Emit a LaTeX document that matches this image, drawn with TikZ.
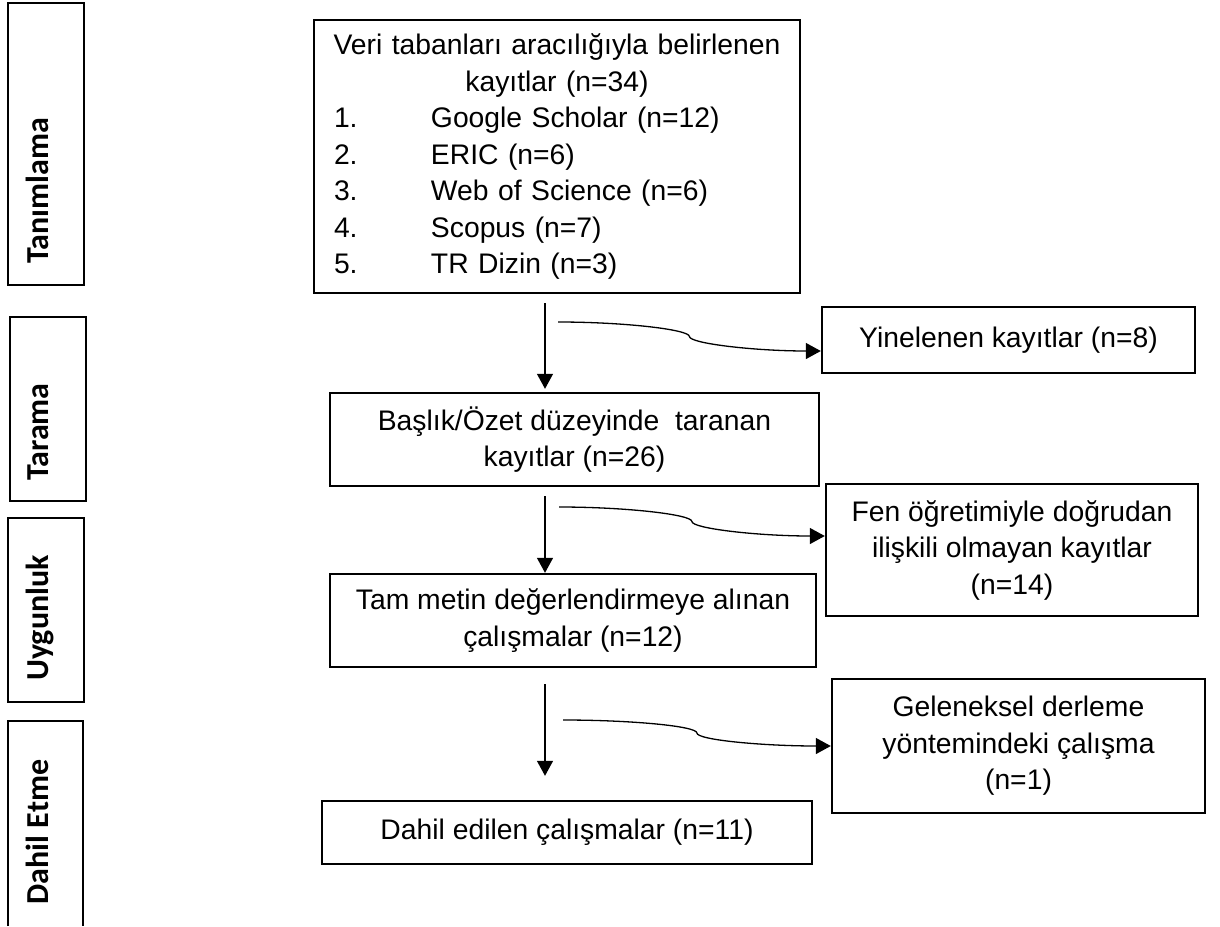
\documentclass[tikz,border=0pt]{standalone}
\usepackage{fontspec}
\setmainfont{Liberation Sans}
\newfontfamily\stagefont{Carlito}
\usetikzlibrary{arrows.meta,calc}

\begin{document}
\begin{tikzpicture}[x=1pt, y=-1pt,
  box/.style={draw, line width=2.4pt, inner sep=0pt, align=center, font=\fontsize{28.3}{36.5}\selectfont},
  stage/.style={draw, line width=2pt},
  stagelbl/.style={rotate=90, anchor=base, font=\stagefont\bfseries\fontsize{32}{38}\selectfont},
  arr/.style={line width=1.3pt, -{Triangle[length=15pt,width=16pt]}}]
\useasboundingbox (0,0) rectangle (1220,926);

% stage strips on the left
\draw [stage] (8,3) rectangle (84,285);
\draw [stage] (10,317) rectangle (86,501);
\draw [stage] (8,518) rectangle (84,702);
\draw [stage] (8,926) -- (8,721) -- (83,721) -- (83,926);
\node [stagelbl] (tanim) at (48,191) {Tanımlama};
\node [stagelbl] (tara) at (48,432) {Tarama};
\node [stagelbl] (uyg) at (48,618) {Uygunluk};
\node [stagelbl] (dah) at (48,832) {Dahil Etme};

% main column
\node [box, align=left, text width=458pt, minimum width=486pt, minimum height=273pt] (kayit) at (557,156.5)
  {\centering Veri tabanları aracılığıyla belirlenen\\ kayıtlar (n=34)\par
   \raggedright\hspace*{6pt}\makebox[97pt][l]{1.}Google Scholar (n=12)\\
   \hspace*{6pt}\makebox[97pt][l]{2.}ERIC (n=6)\\
   \hspace*{6pt}\makebox[97pt][l]{3.}Web of Science (n=6)\\
   \hspace*{6pt}\makebox[97pt][l]{4.}Scopus (n=7)\\
   \hspace*{6pt}\makebox[97pt][l]{5.}TR Dizin (n=3)};
\node [box, minimum width=489pt, minimum height=93pt] (tarama) at (574.5,439.5)
  {Başlık/Özet düzeyinde~ taranan\\ kayıtlar (n=26)};
\node [box, minimum width=486pt, minimum height=93pt] (uygun) at (573,620.5)
  {Tam metin değerlendirmeye alınan\\ çalışmalar (n=12)};
\node [box, minimum width=490pt, minimum height=63pt] (dahil) at (567,832.5)
  {Dahil edilen çalışmalar (n=11)};

% excluded records
\node [box, minimum width=373pt, minimum height=66pt] (yinele) at (1008.5,340)
  {Yinelenen kayıtlar (n=8)};
\node [box, minimum width=372pt, minimum height=132pt] (fen) at (1012,550)
  {Fen öğretimiyle doğrudan\\ ilişkili olmayan kayıtlar\\ (n=14)};
\node [box, minimum width=373pt, minimum height=134pt] (gelen) at (1018.5,746)
  {Geleneksel derleme\\ yöntemindeki çalışma\\ (n=1)};

% down arrows
\coordinate (col) at (545,0);
\draw [arr, shorten <=9pt, shorten >=3pt] (kayit.south -| col) -- (tarama.north -| col);
\draw [arr, shorten <=9pt] (tarama.south -| col) -- (uygun.north -| col);
\draw [arr, shorten <=16pt, shorten >=24pt] (uygun.south -| col) -- (dahil.north -| col);

% curved arrows to the right
\coordinate (s1) at (558,322);
\coordinate (s2) at (559,507);
\coordinate (s3) at (563,720);
\coordinate (e1) at ($(yinele.west)+(0,11)$);
\coordinate (e2) at ($(fen.west)+(0,-14)$);
\coordinate (e3) at (gelen.west);
\draw [arr] (s1) .. controls +(66,0) and +(0,-7) .. ($(s1)!.5!(e1)$) .. controls +(0,7) and +(-66,0) .. (e1);
\draw [arr] (s2) .. controls +(67,0) and +(0,-7) .. ($(s2)!.5!(e2)$) .. controls +(0,7) and +(-67,0) .. (e2);
\draw [arr] (s3) .. controls +(67,0) and +(0,-7) .. ($(s3)!.5!(e3)$) .. controls +(0,7) and +(-67,0) .. (e3);
\end{tikzpicture}
\end{document}
